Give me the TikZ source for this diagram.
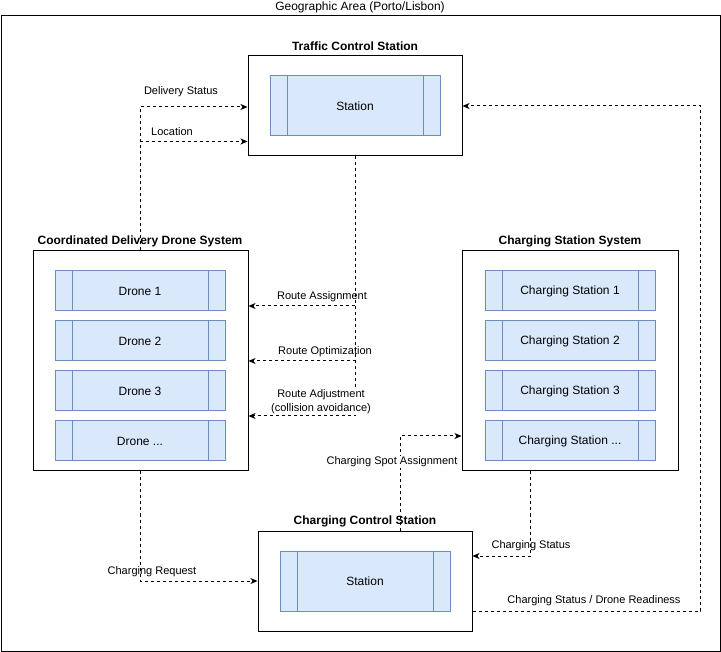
\documentclass[tikz,border=0pt]{standalone}
\usepackage{fontspec}
\setmainfont{Liberation Sans}
\usetikzlibrary{arrows.meta,calc}
\definecolor{procfill}{HTML}{DAE8FC}
\definecolor{procdraw}{HTML}{6C8EBF}
\tikzset{
  container/.style={draw=black, fill=white, line width=1pt, inner sep=0pt, minimum width=#1},
  proc/.style={draw=procdraw, fill=procfill, line width=1pt, minimum width=170pt, minimum height=40pt, inner sep=0pt, font=\fontsize{12pt}{14pt}\selectfont,
    path picture={\draw[procdraw, line width=1pt] ([xshift=17pt]path picture bounding box.north west) -- ([xshift=17pt]path picture bounding box.south west)
      ([xshift=-17pt]path picture bounding box.north east) -- ([xshift=-17pt]path picture bounding box.south east);}},
  ttl/.style={font=\bfseries\fontsize{12pt}{14pt}\selectfont, inner sep=1pt},
  lbl/.style={font=\fontsize{11pt}{13pt}\selectfont, inner sep=1pt, align=center},
  flow/.style={draw=black, line width=1pt, dash pattern=on 3pt off 3pt, -{Stealth[length=7pt,width=6pt,inset=2pt]}}
}
\begin{document}
\begin{tikzpicture}[x=1pt,y=-1pt]
\useasboundingbox (0,0) rectangle (721,652);
% outer area
\node[draw=black, line width=1pt, minimum width=719pt, minimum height=636pt, inner sep=0pt] (area) at (360.5,333.5) {};
\node[lbl, font=\fontsize{12pt}{14pt}\selectfont] (areat) at (360,7) {Geographic Area (Porto/Lisbon)};

% Traffic Control Station
\node[container=214pt, minimum height=100pt] (tcs) at (355,106) {};
\node[ttl] (tcst) at (355,46) {Traffic Control Station};
\node[proc, minimum height=60pt] (tcsp) at (355,106) {Station};

% Coordinated Delivery Drone System
\node[container=215pt, minimum height=220pt] (drones) at (140.5,361) {};
\node[ttl] (dronest) at (140,241) {Coordinated Delivery Drone System};
\node[proc] (d1) at (140,291) {Drone 1};
\node[proc] (d2) at (140,341) {Drone 2};
\node[proc] (d3) at (140,391) {Drone 3};
\node[proc] (d4) at (140,441) {Drone ...};

% Charging Station System
\node[container=216pt, minimum height=220pt] (css) at (570,361) {};
\node[ttl] (csst) at (570,241) {Charging Station System};
\node[proc] (c1) at (570,291) {Charging Station 1};
\node[proc] (c2) at (570,341) {Charging Station 2};
\node[proc] (c3) at (570,391) {Charging Station 3};
\node[proc] (c4) at (570,441) {Charging Station ...};

% Charging Control Station
\node[container=214pt, minimum height=100pt] (ccs) at (365,581) {};
\node[ttl] (ccst) at (365,521) {Charging Control Station};
\node[proc, minimum height=60pt] (ccsp) at (365,581) {Station};

% connectors
\draw[flow] (drones.north) |- ([yshift=-1pt]tcs.west);
\draw[flow] (drones.north) |- ([yshift=15pt]tcs.south west);
\node[lbl] (l1) at (181,92) {Delivery Status};
\node[lbl] (l2) at (172,132) {Location};

\draw[flow] (tcs.south) |- ([yshift=55pt]drones.east);
\draw[flow] (tcs.south) |- (drones.east);
\draw[flow] (tcs.south) |- ([yshift=-55pt]drones.east);
\node[lbl] (l3) at (322,297) {Route Assignment};
\node[lbl] (l4) at (325,352) {Route Optimization};
\node[lbl, fill=white, font=\fontsize{11pt}{14pt}\selectfont] (l5) at (321,402) {Route Adjustment\\(collision avoidance)};

\draw[flow] (drones.south) |- (ccs.west);
\node[lbl] (l6) at (152,572) {Charging Request};

\draw[flow] ([xshift=35pt]ccs.north) |- ([yshift=-75pt]css.west);
\node[lbl, fill=white] (l7) at (392,462) {Charging Spot Assignment};

\draw[flow] ([xshift=-40pt]css.south) |- ([yshift=25pt]ccs.east);
\node[lbl] (l8) at (531,546) {Charging Status};

\draw[flow] ([yshift=-30pt]ccs.east) -| ([xshift=238pt]tcs.east) -- (tcs.east);
\node[lbl] (l9) at (594,601) {Charging Status / Drone Readiness};
\end{tikzpicture}
\end{document}
